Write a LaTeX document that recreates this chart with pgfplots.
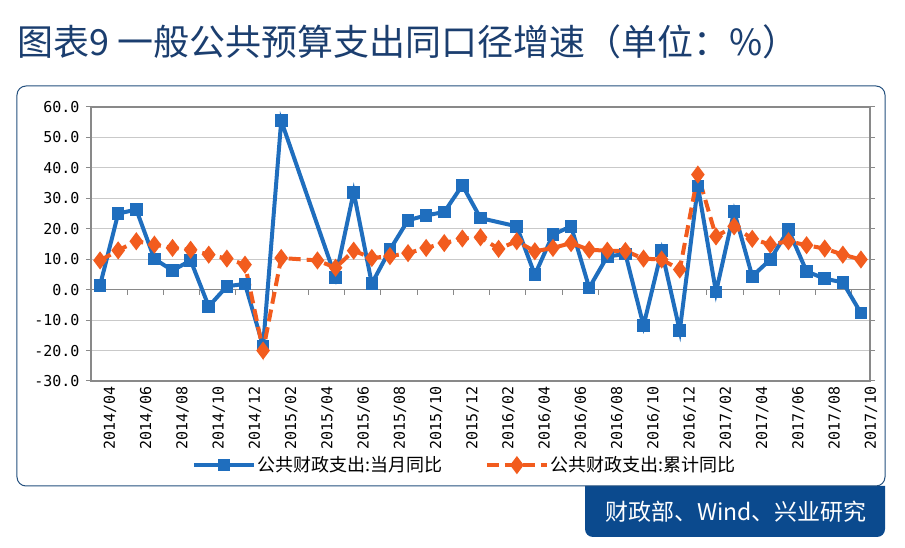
\documentclass[border=0pt]{standalone}
\usepackage{fontspec}
\usepackage{pgfplots}
\pgfplotsset{compat=1.18}
\newfontfamily\cjk{Noto Sans CJK SC}
\newfontfamily\tickfont{DejaVu Sans Mono}
\definecolor{serblue}{HTML}{1F6EBE}
\definecolor{serorange}{HTML}{F25C1E}
\definecolor{axisgray}{HTML}{898989}
\definecolor{gridgray}{HTML}{C9C9C9}
\definecolor{titleblue}{HTML}{1B3E6F}
\definecolor{framecol}{HTML}{24507E}
\definecolor{srcblue}{HTML}{0B4A8E}

% month index: 0 = 2014/04 ... 42 = 2017/10
\pgfplotstableread{
i   v
0   1.4
1   25.0
2   26.3
3   10.1
4   6.3
5   9.6
6   -5.5
7   1.1
8   1.9
9   -18.5
10  55.5
13  4.0
14  32.0
15  2.0
16  13.1
17  22.8
18  24.4
19  25.5
20  34.3
21  23.5
23  20.8
24  4.9
25  18.1
26  20.8
27  0.6
28  10.9
29  11.7
30  -11.8
31  12.8
32  -13.5
33  34.0
34  -0.8
35  25.7
36  4.4
37  9.9
38  19.7
39  6.0
40  3.6
41  2.4
42  -7.7
}\monthly

\pgfplotstableread{
i   v
0   9.6
1   12.9
2   15.9
3   14.8
4   13.7
5   13.1
6   11.5
7   10.2
8   8.2
9   -20.0
10  10.4
12  9.6
13  7.2
14  12.8
15  10.4
16  11.0
17  12.0
18  13.7
19  15.3
20  16.8
21  17.2
22  13.4
23  15.9
24  12.6
25  13.7
26  15.3
27  13.1
28  12.8
29  12.7
30  10.2
31  9.9
32  6.6
33  37.8
34  17.5
35  20.8
36  16.7
37  14.8
38  15.9
39  14.6
40  13.5
41  11.5
42  9.9
}\cumul

\begin{document}
\begin{tikzpicture}
\begin{axis}[
    scale only axis, width=779pt, height=274pt,
    xmin=-0.5, xmax=42.5, ymin=-30, ymax=60,
    ytick={-30,-20,...,60},
    xtick={0,2,...,42},
    xticklabels={2014/04,2014/06,2014/08,2014/10,2014/12,2015/02,2015/04,2015/06,
      2015/08,2015/10,2015/12,2016/02,2016/04,2016/06,2016/08,2016/10,2016/12,
      2017/02,2017/04,2017/06,2017/08,2017/10},
    xticklabel style={rotate=90, anchor=east, inner sep=0pt, yshift=-10pt},
    yticklabel style={/pgf/number format/fixed, /pgf/number format/fixed zerofill,
      /pgf/number format/precision=1, /pgf/number format/assume math mode=true,
      xshift=-3pt},
    ticklabel style={font=\tickfont\fontsize{15}{15}\selectfont, text=black},
    xtick style={draw=none},
    ytick style={draw=axisgray, line width=1pt},
    tick align=outside, major tick length=5pt,
    ymajorgrids, grid style={gridgray, line width=0.9pt},
    axis line style={axisgray, line width=1.3pt},
    legend columns=2,
    legend style={at={(0.48,-0.307)}, anchor=center, draw=none, fill=none,
      font=\cjk\fontsize{18}{18}\selectfont, inner sep=0pt,
      /tikz/every even column/.append style={column sep=40pt}},
    legend image code/.code={\draw[#1, mark repeat=2, mark phase=2]
      plot coordinates {(0pt,0pt) (30pt,0pt) (60pt,0pt)};},
]
\coordinate (AO) at (rel axis cs:0,0);
\draw[axisgray, line width=1.3pt] (axis cs:-0.5,0) -- (axis cs:42.5,0);
\pgfplotsinvokeforeach{1.5,3.5,...,41.5}{
  \draw[axisgray, line width=1pt] (axis cs:#1,0) -- ++(0pt,-5pt);
}
\addplot[serblue, line width=4pt, mark=square*, mark size=4.3pt,
  mark options={solid}] table[x=i, y=v] {\monthly};
\addlegendentry{公共财政支出:当月同比}
\addplot[serorange, line width=4pt, dash pattern=on 12pt off 6pt,
  mark=diamond*, mark size=5.8pt, mark options={solid}] table[x=i, y=v] {\cumul};
\addlegendentry{公共财政支出:累计同比}
\end{axis}

% page coordinates: (0,0) = lower left of the 905 x 548 page, axis box at (91,167)
\begin{scope}[shift={(AO)}, xshift=-91pt, yshift=-167pt, x=1pt, y=1pt]
\node[anchor=west, inner sep=0, text=titleblue, font=\cjk\fontsize{36}{36}\selectfont]
  at (17,506) {图表9 一般公共预算支出同口径增速（单位：\%）};
\fill[srcblue] (585,62) -- (585,19) arc[start angle=180, end angle=270, radius=8]
  -- (877,11) arc[start angle=270, end angle=360, radius=8] -- (885,62) -- cycle;
\draw[framecol, line width=1pt, rounded corners=9pt] (17,62) rectangle (885,462);
\node[text=white, font=\cjk\fontsize{23}{23}\selectfont] at (736,36) {财政部、Wind、兴业研究};
\pgfresetboundingbox
\path[use as bounding box] (0,0) rectangle (905,548);
\end{scope}
\end{tikzpicture}
\end{document}
